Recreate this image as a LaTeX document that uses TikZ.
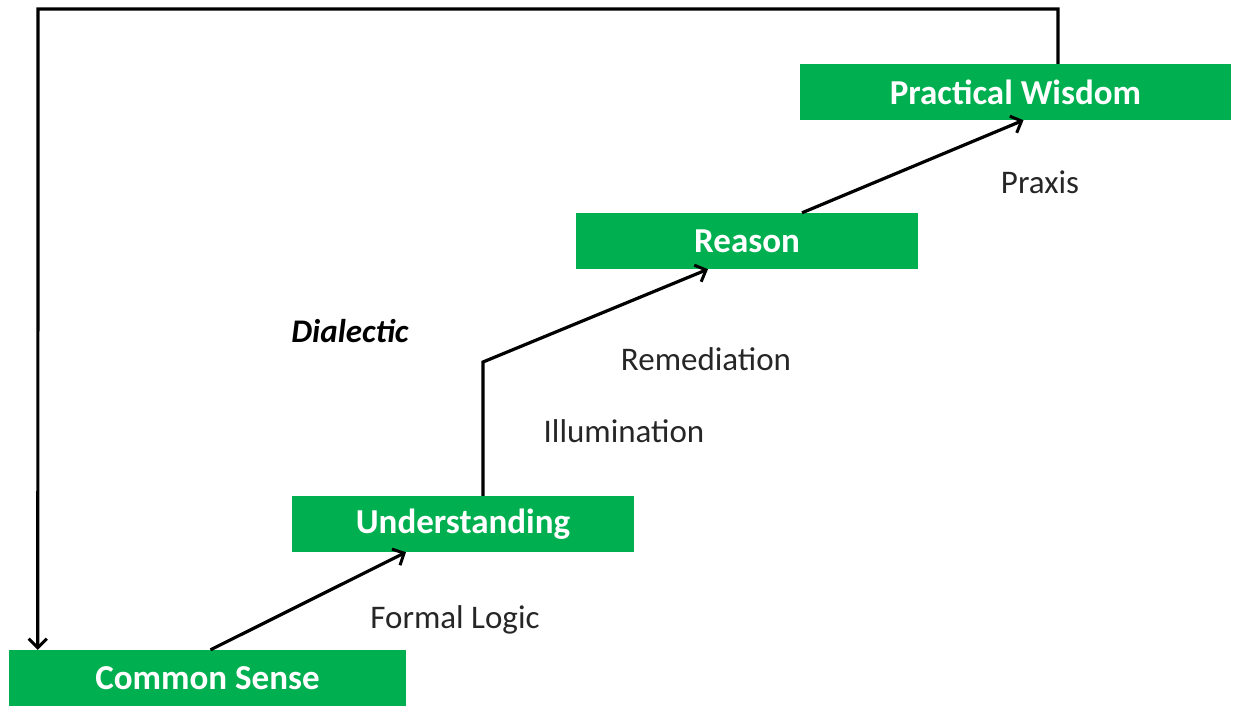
\documentclass[tikz,border=0pt]{standalone}
\usepackage{fontspec}
\setmainfont{Carlito}
\usetikzlibrary{arrows.meta}
\definecolor{boxgreen}{HTML}{00B050}
\definecolor{labelgray}{HTML}{262626}
\tikzset{
  stepbox/.style={fill=boxgreen, draw=none, inner sep=0pt, text=white, minimum height=56pt, font=\fontsize{35}{40}\selectfont\bfseries},
  conn/.style={line width=3.2pt, line join=miter, -{Straight Barb[length=9pt,width=18pt,line width=3pt]}},
  lbl/.style={font=\fontsize{33}{40}\selectfont, text=labelgray, inner sep=0pt}
}
\begin{document}
\begin{tikzpicture}[x=1pt,y=-1pt]
\useasboundingbox (0,0) rectangle (1233,707);
\node[stepbox, minimum width=397pt] (cs) at (207.5,678) {Common Sense};
\node[stepbox, minimum width=342pt] (un) at (463,524) {Understanding};
\node[stepbox, minimum width=342pt] (re) at (747,241) {Reason};
\node[stepbox, minimum width=431pt] (pw) at (1015.5,92) {Practical Wisdom};

\coordinate (bend) at (483,362);
\coordinate (topR) at (1058,9);
\coordinate (topL) at (38,9);

\draw[conn] ([xshift=3pt]cs.north) -- ([xshift=-57pt]un.south);
\draw[conn] ([xshift=20pt]un.north) -- (bend) -- ([xshift=-39pt]re.south);
\draw[conn] ([xshift=55pt]re.north) -- ([xshift=8pt]pw.south);
\draw[conn] ([xshift=42.5pt]pw.north) -- (topR) -- (topL) -- ([xshift=29pt]cs.north west);

\node[lbl] (fl) at (455,620) {Formal Logic};
\node[lbl] (il) at (624,431) {Illumination};
\node[lbl] (rm) at (706,359) {Remediation};
\node[lbl] (px) at (1040,182) {Praxis};
\node[lbl, font=\fontsize{33}{40}\selectfont\bfseries\itshape, text=black] (di) at (350,331) {Dialectic};
\end{tikzpicture}
\end{document}
